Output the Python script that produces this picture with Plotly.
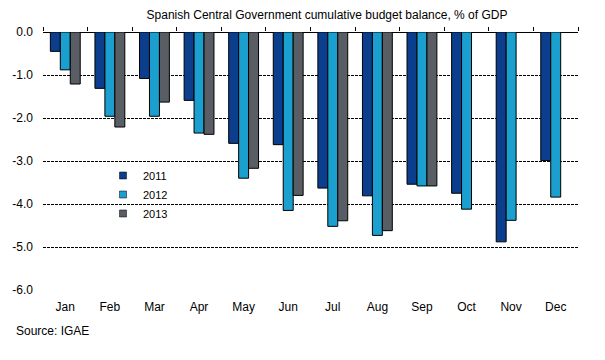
import plotly.graph_objects as go

months = ["Jan", "Feb", "Mar", "Apr", "May", "Jun", "Jul", "Aug", "Sep", "Oct", "Nov", "Dec"]
y2011 = [-0.45, -1.31, -1.08, -1.59, -2.59, -2.62, -3.63, -3.81, -3.54, -3.75, -4.88, -2.99]
y2012 = [-0.88, -1.96, -1.96, -2.35, -3.40, -4.15, -4.52, -4.73, -3.58, -4.12, -4.38, -3.84]
y2013 = [-1.21, -2.21, -1.63, -2.38, -3.17, -3.80, -4.39, -4.62, -3.58, None, None, None]
yticks = [0, -1, -2, -3, -4, -5, -6]
ytick_labels = ["0.0", "-1.0", "-2.0", "-3.0", "-4.0", "-5.0", "-6.0"]

colors = {"2011": "#0b3e8c", "2012": "#1a9fcf", "2013": "#595e65"}
font = "Liberation Sans, Arial, sans-serif"

# page body has an 8px margin, so the figure is offset by 8px
OFF = 8
W, H = 605 - OFF, 360 - OFF
L, R, T, B = 43 - OFF, 27, 32 - OFF, 70
PW, PH = W - L - R, H - T - B

def px_x(sx):
    return (sx - 43) / PW

def px_y(sy):
    return (290 - sy) / PH

fig = go.Figure()
for name, vals in [("2011", y2011), ("2012", y2012), ("2013", y2013)]:
    fig.add_trace(go.Bar(
        x=months, y=vals, name=name, showlegend=False, legendgroup=name,
        marker=dict(color=colors[name], line=dict(color="#000000", width=1)),
    ))
for name in ["2011", "2012", "2013"]:
    fig.add_trace(go.Scatter(
        x=[None], y=[None], name=name, mode="markers", legendgroup=name,
        marker=dict(symbol="square", size=7, color=colors[name],
                    line=dict(color="#000000", width=0.5)),
    ))

fig.add_trace(go.Scatter(x=[-0.5, 11.5], y=[0, 0], xaxis="x2", mode="lines",
                         line=dict(width=0), showlegend=False, hoverinfo="skip"))

fig.update_layout(
    width=W, height=H,
    paper_bgcolor="white", plot_bgcolor="white",
    margin=dict(l=L, r=R, t=T, b=B, autoexpand=False),
    barmode="group", bargap=0.33, bargroupgap=0,
    font=dict(family=font, size=11, color="#000000"),
    title=dict(text="Spanish Central Government cumulative budget balance, % of GDP",
               x=(327 - OFF) / W, xanchor="center", y=1 - (15 - OFF) / H, yanchor="middle",
               font=dict(family=font, size=12, color="#000000")),
    xaxis=dict(showline=False, ticks="", showgrid=False, tickfont=dict(size=12),
               range=[-0.5, 11.5], automargin=False, ticklabelstandoff=8),
    xaxis2=dict(overlaying="x", side="top", range=[-0.5, 11.5], anchor="y",
                tickvals=[i - 0.5 for i in range(13)], ticks="outside", ticklen=4,
                tickcolor="#000000", showticklabels=False, showgrid=False,
                showline=False, zeroline=False, automargin=False),
    yaxis=dict(range=[-6, 0], tickvals=yticks, ticktext=ytick_labels,
               showgrid=True, gridcolor="#000000", gridwidth=1, griddash="3px,1px",
               zeroline=True, zerolinecolor="#000000", zerolinewidth=1,
               showline=False, ticks="", tickfont=dict(size=12), automargin=False,
               ticklabelstandoff=9),
    legend=dict(x=px_x(103), y=px_y(161), xanchor="left", yanchor="top",
                bgcolor="rgba(0,0,0,0)", font=dict(size=11), itemwidth=30,
                tracegroupgap=0),
    annotations=[dict(text="Source: IGAE", xref="paper", yref="paper",
                      x=px_x(14), y=px_y(331), xanchor="left",
                      yanchor="middle", showarrow=False, font=dict(size=12))],
)

fig.write_html("out.html")
